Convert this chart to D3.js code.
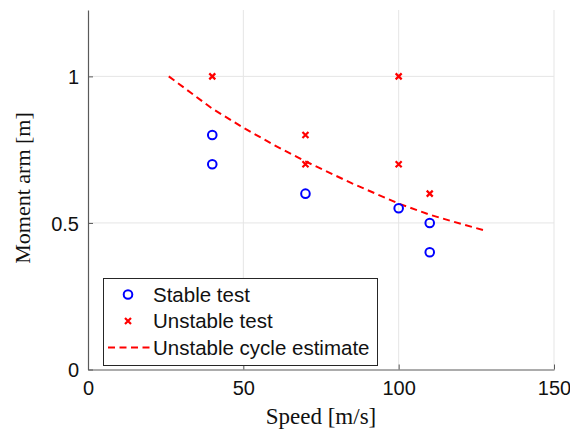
<!DOCTYPE html>
<html>
<head>
<meta charset="utf-8">
<script src="https://cdn.jsdelivr.net/npm/d3@7"></script>
<style>
  html, body { margin: 0; padding: 0; background: #fff; }
  svg { display: block; }
</style>
</head>
<body>
<script>
// ---- data ----
const stableSpeed  = [40, 40, 70, 100, 110, 110];
const stableArm    = [0.8, 0.7, 0.6, 0.55, 0.5, 0.4];
const unstableSpeed = [40, 70, 70, 100, 100, 110];
const unstableArm   = [1.0, 0.8, 0.7, 1.0, 0.7, 0.6];
const estSpeed = [26, 33, 40, 50, 60, 70, 85, 100, 110, 120, 128.5];
const estArm   = [1.0, 0.945, 0.89, 0.825, 0.765, 0.71, 0.635, 0.566, 0.528, 0.497, 0.472];
const xTicks = [0, 50, 100, 150];
const yTicks = [0, 0.5, 1];
const yTickLabels = ["0", "0.5", "1"];
const legendLabels = ["Stable test", "Unstable test", "Unstable cycle estimate"];

(function () {
const W = 570, H = 433;
const mLeft = 88, mRight = 554, mTop = 10, mBottom = 369.5;

const svg = d3.select("body").append("svg").attr("width", W).attr("height", H);

const x = d3.scaleLinear().domain([0, 150]).range([mLeft, mRight]);
const y = d3.scaleLinear().domain([0, 1.2265]).range([mBottom, mTop]);

const sans = "'Liberation Sans', Arial, sans-serif";
const serif = "'Liberation Serif', 'Times New Roman', serif";
const axisColor = "#5a5a5a";
const gridColor = "#e5e5e5";

// grid
svg.append("g").selectAll("line").data(xTicks.filter(d => d > 0)).join("line")
  .attr("x1", d => x(d)).attr("x2", d => x(d)).attr("y1", mTop).attr("y2", mBottom)
  .attr("stroke", gridColor).attr("stroke-width", 1);
svg.append("g").selectAll("line").data(yTicks.filter(d => d > 0)).join("line")
  .attr("x1", mLeft).attr("x2", mRight).attr("y1", d => y(d)).attr("y2", d => y(d))
  .attr("stroke", gridColor).attr("stroke-width", 1);

// axes
const xAxis = d3.axisBottom(x).tickValues(xTicks).tickSizeInner(-5).tickSizeOuter(0).tickPadding(10);
const gx = svg.append("g").attr("transform", `translate(0,${mBottom})`).call(xAxis);
const yAxis = d3.axisLeft(y).tickValues(yTicks).tickFormat((d, i) => yTickLabels[i]).tickSizeInner(-5).tickSizeOuter(0).tickPadding(9);
const gy = svg.append("g").attr("transform", `translate(${mLeft},0)`).call(yAxis);
[gx, gy].forEach(g => {
  g.select(".domain").attr("stroke", axisColor).attr("stroke-width", 1.2);
  g.selectAll(".tick line").attr("stroke", axisColor).attr("stroke-width", 1);
  g.selectAll(".tick text").attr("fill", "#111").style("font-family", sans).style("font-size", "20px");
});
gx.selectAll(".tick text").attr("dy", "0.78em");
gy.selectAll(".tick text").attr("dy", "0.36em");

// estimate curve
const line = d3.line().x((d, i) => x(estSpeed[i])).y(d => y(d));
svg.append("path").datum(estArm).attr("d", line)
  .attr("fill", "none").attr("stroke", "#ff0000").attr("stroke-width", 2)
  .attr("stroke-dasharray", "7,4.5");

// stable markers
svg.append("g").selectAll("circle").data(stableArm).join("circle")
  .attr("cx", (d, i) => x(stableSpeed[i])).attr("cy", d => y(d)).attr("r", 4.3)
  .attr("fill", "none").attr("stroke", "#0000ff").attr("stroke-width", 2);

// unstable markers
const cross = (g, cx, cy, s) => {
  g.append("path").attr("d", `M${cx - s},${cy - s}L${cx + s},${cy + s}M${cx - s},${cy + s}L${cx + s},${cy - s}`)
    .attr("stroke", "#ff0000").attr("stroke-width", 2.2).attr("fill", "none");
};
const gu = svg.append("g");
unstableArm.forEach((d, i) => cross(gu, x(unstableSpeed[i]), y(d), 3));

// axis labels
svg.append("text").attr("x", (mLeft + mRight) / 2).attr("y", 424).attr("text-anchor", "middle")
  .style("font-family", serif).style("font-size", "23px").attr("fill", "#111").text("Speed [m/s]");
svg.append("text").attr("transform", `translate(30,${188}) rotate(-90)`).attr("text-anchor", "middle")
  .style("font-family", serif).style("font-size", "22px").attr("fill", "#111").text("Moment arm [m]");

// legend
const lg = svg.append("g");
lg.append("rect").attr("x", 103.5).attr("y", 278.5).attr("width", 274).attr("height", 87)
  .attr("fill", "#fff").attr("stroke", "#262626").attr("stroke-width", 1);
const rowY = [294.5, 321, 347.5];
lg.append("circle").attr("cx", 128).attr("cy", rowY[0]).attr("r", 4.3)
  .attr("fill", "none").attr("stroke", "#0000ff").attr("stroke-width", 2);
cross(lg, 128, rowY[1], 3);
lg.append("line").attr("x1", 108).attr("x2", 150).attr("y1", rowY[2]).attr("y2", rowY[2])
  .attr("stroke", "#ff0000").attr("stroke-width", 2).attr("stroke-dasharray", "7,4.5");
lg.selectAll("text").data(legendLabels).join("text")
  .attr("x", 153).attr("y", (d, i) => rowY[i]).attr("dy", "0.36em")
  .style("font-family", sans).style("font-size", "20.5px").attr("fill", "#111").text(d => d);
})();
</script>
</body>
</html>
